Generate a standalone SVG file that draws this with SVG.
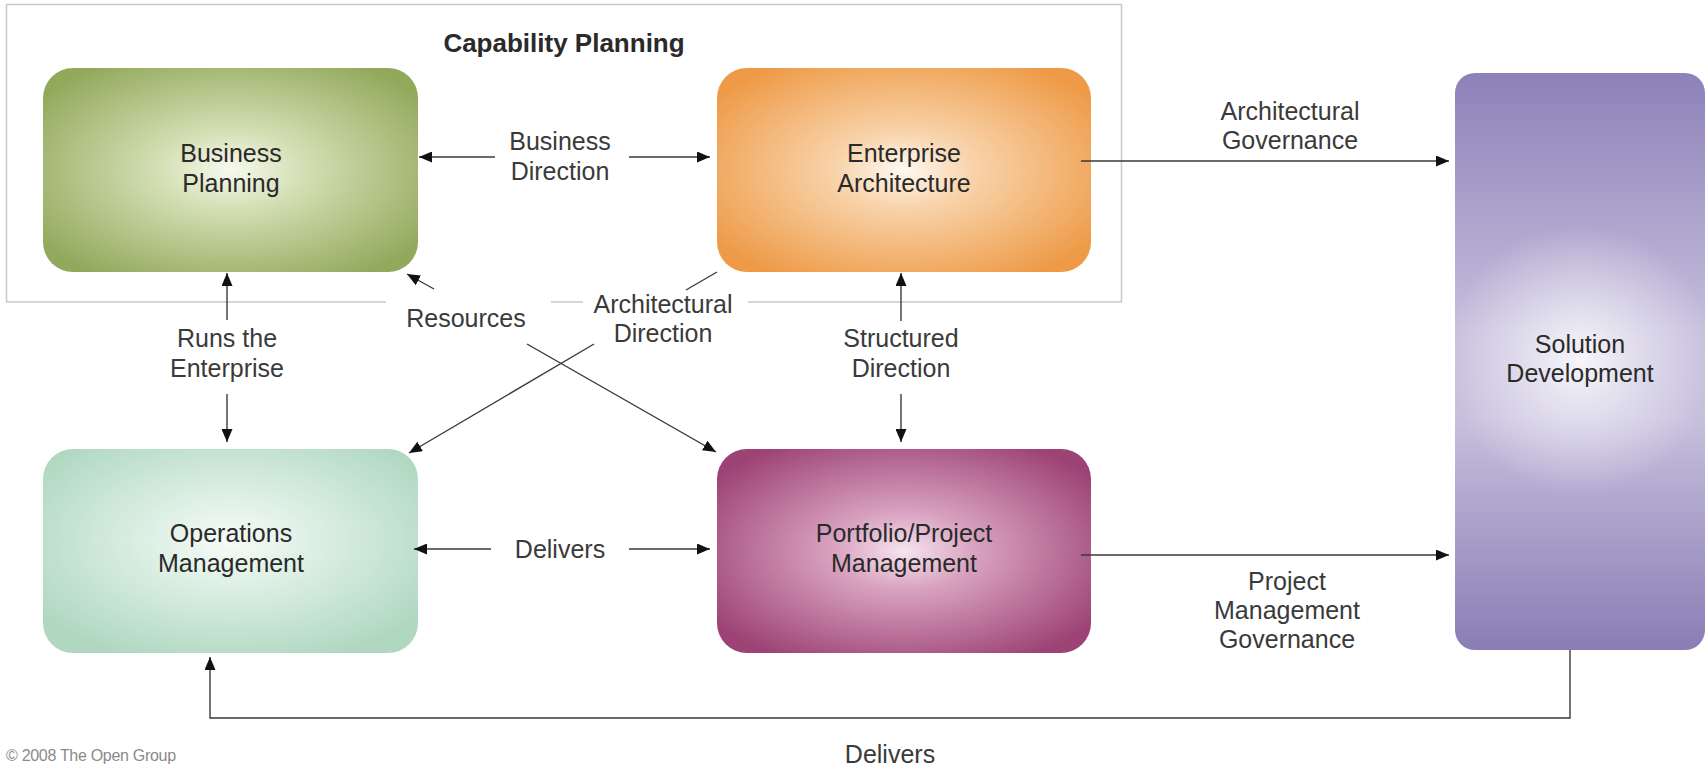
<svg xmlns="http://www.w3.org/2000/svg" width="1706" height="768" viewBox="0 0 1706 768">
<style>
.lbl{font-family:"Liberation Sans",Arial,sans-serif;font-size:25px;fill:#3a3a3a;text-anchor:middle}
.nt{font-family:"Liberation Sans",Arial,sans-serif;font-size:25px;fill:#2a2a2a;text-anchor:middle}
.title{font-family:"Liberation Sans",Arial,sans-serif;font-size:26px;font-weight:bold;fill:#2a2a2a;text-anchor:middle}
.copy{font-family:"Liberation Sans",Arial,sans-serif;font-size:16px;fill:#8a8a8a;letter-spacing:-0.3px}
.frame{fill:none;stroke:#c9c9c9;stroke-width:1.5}
.con{fill:none;stroke:#3a3a3a;stroke-width:1.4}
.arr{marker-end:url(#ah)}
</style>
<defs>
<marker id="ah" markerUnits="userSpaceOnUse" markerWidth="13" markerHeight="11" refX="13" refY="5.5" orient="auto">
<path d="M0,0 L13,5.5 L0,11 z" fill="#111"/>
</marker>
<radialGradient id="gBP" cx="0.5" cy="0.5" r="0.62">
<stop offset="0" stop-color="#f7f9ee"/>
<stop offset="0.3" stop-color="#d5e0b6"/>
<stop offset="1" stop-color="#92a95c"/>
</radialGradient>
<radialGradient id="gEA" cx="0.5" cy="0.5" r="0.62">
<stop offset="0" stop-color="#fff8f0"/>
<stop offset="0.3" stop-color="#f8d3aa"/>
<stop offset="1" stop-color="#ee9a46"/>
</radialGradient>
<radialGradient id="gOM" cx="0.5" cy="0.45" r="0.62">
<stop offset="0" stop-color="#f6fbf8"/>
<stop offset="0.35" stop-color="#def0e5"/>
<stop offset="1" stop-color="#b0d8c1"/>
</radialGradient>
<radialGradient id="gPP" cx="0.5" cy="0.5" r="0.62">
<stop offset="0" stop-color="#f6e4ee"/>
<stop offset="0.3" stop-color="#d9a3c1"/>
<stop offset="1" stop-color="#9c4274"/>
</radialGradient>
<linearGradient id="gSDv" x1="0" y1="0" x2="0" y2="1">
<stop offset="0" stop-color="#8d81b8"/>
<stop offset="0.45" stop-color="#c6bfdd"/>
<stop offset="0.6" stop-color="#c6bfdd"/>
<stop offset="1" stop-color="#8a7db5"/>
</linearGradient>
<radialGradient id="gSDr" gradientUnits="userSpaceOnUse" cx="1580" cy="360" r="135">
<stop offset="0" stop-color="#ffffff" stop-opacity="0.85"/>
<stop offset="0.5" stop-color="#ffffff" stop-opacity="0.4"/>
<stop offset="1" stop-color="#ffffff" stop-opacity="0"/>
</radialGradient>
</defs>
<rect width="1706" height="768" fill="#ffffff"/>

<g id="capability-planning">
<path class="frame" d="M386,302 L6.5,302 L6.5,4.5 L1121.5,4.5 L1121.5,302 L748,302 M551,302 L583,302"/>
<text class="title" x="564" y="52">Capability Planning</text>
</g>

<g id="business-planning">
<rect x="43" y="68" width="375" height="204" rx="30" fill="url(#gBP)"/>
<text class="nt" x="231" y="162">Business</text>
<text class="nt" x="231" y="192">Planning</text>
</g>

<g id="enterprise-architecture">
<rect x="717" y="68" width="374" height="204" rx="30" fill="url(#gEA)"/>
<text class="nt" x="904" y="162">Enterprise</text>
<text class="nt" x="904" y="192">Architecture</text>
</g>

<g id="operations-management">
<rect x="43" y="449" width="375" height="204" rx="30" fill="url(#gOM)"/>
<text class="nt" x="231" y="542">Operations</text>
<text class="nt" x="231" y="572">Management</text>
</g>

<g id="portfolio-project-management">
<rect x="717" y="449" width="374" height="204" rx="30" fill="url(#gPP)"/>
<text class="nt" x="904" y="542">Portfolio/Project</text>
<text class="nt" x="904" y="572">Management</text>
</g>

<g id="solution-development">
<rect x="1455" y="73" width="250" height="577" rx="20" fill="url(#gSDv)"/>
<rect x="1455" y="73" width="250" height="577" rx="20" fill="url(#gSDr)"/>
<text class="nt" x="1580" y="353">Solution</text>
<text class="nt" x="1580" y="382">Development</text>
</g>

<g id="connectors">
<path class="con arr" d="M495,157 L419,157"/>
<path class="con arr" d="M629,157 L710,157"/>
<path class="con arr" d="M1081,161 L1449,161"/>
<path class="con arr" d="M227,320 L227,273"/>
<path class="con arr" d="M227,394 L227,442"/>
<path class="con arr" d="M901,321 L901,273"/>
<path class="con arr" d="M901,394 L901,442"/>
<path class="con arr" d="M434,289 L407,274"/>
<path class="con arr" d="M527,344 L716,452"/>
<path class="con" d="M717,272 L686,290"/>
<path class="con arr" d="M594,344 L409,453"/>
<path class="con arr" d="M491,549 L414,549"/>
<path class="con arr" d="M629,549 L710,549"/>
<path class="con arr" d="M1081,555 L1449,555"/>
<path class="con arr" d="M1570,650 L1570,718 L210,718 L210,657"/>
</g>

<g id="labels">
<text class="lbl" x="560" y="150">Business</text>
<text class="lbl" x="560" y="180">Direction</text>
<text class="lbl" x="1290" y="120">Architectural</text>
<text class="lbl" x="1290" y="149">Governance</text>
<text class="lbl" x="227" y="347">Runs the</text>
<text class="lbl" x="227" y="377">Enterprise</text>
<text class="lbl" x="466" y="327">Resources</text>
<text class="lbl" x="663" y="313">Architectural</text>
<text class="lbl" x="663" y="342">Direction</text>
<text class="lbl" x="901" y="347">Structured</text>
<text class="lbl" x="901" y="377">Direction</text>
<text class="lbl" x="560" y="558">Delivers</text>
<text class="lbl" x="1287" y="590">Project</text>
<text class="lbl" x="1287" y="619">Management</text>
<text class="lbl" x="1287" y="648">Governance</text>
<text class="lbl" x="890" y="763">Delivers</text>
<text class="copy" x="6" y="761">© 2008 The Open Group</text>
</g>
</svg>
